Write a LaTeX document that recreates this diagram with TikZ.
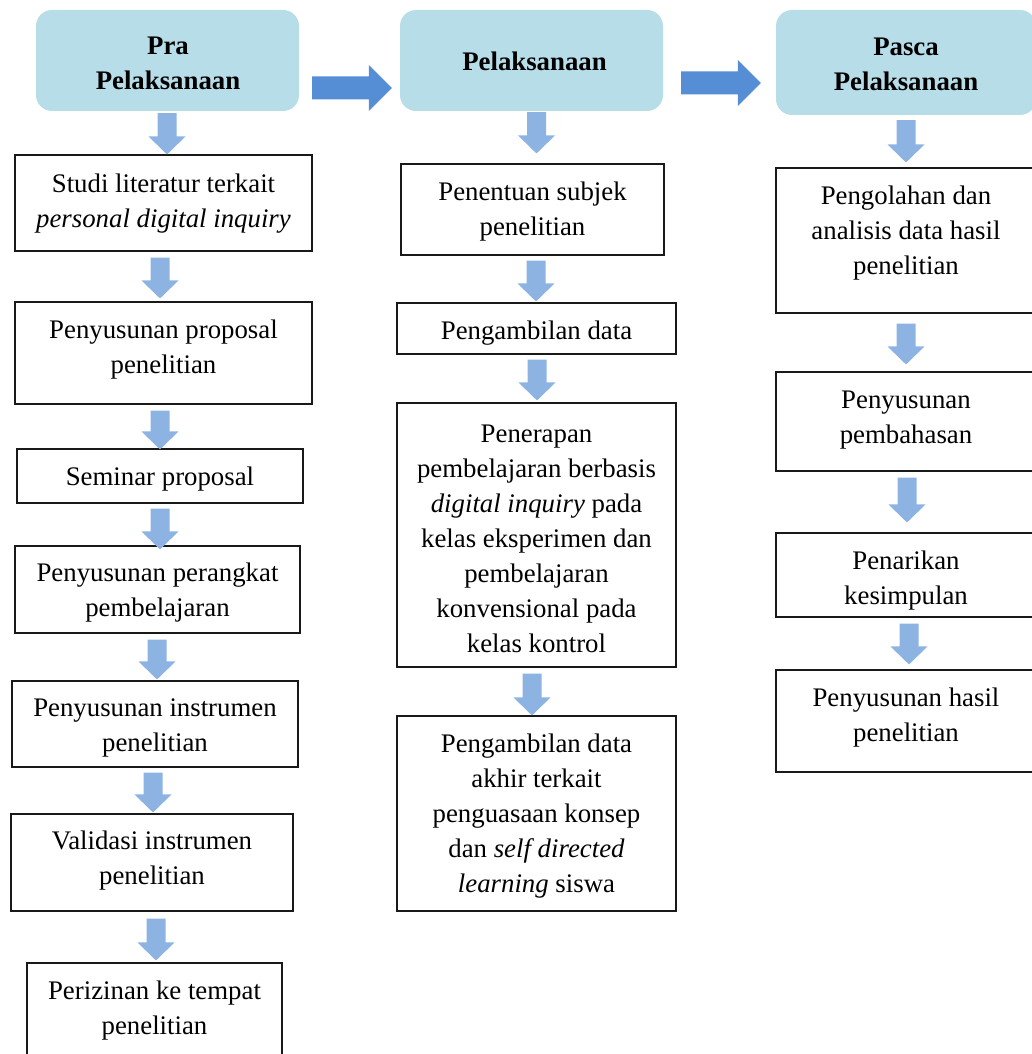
\documentclass[tikz,border=0pt]{standalone}
\usepackage{fontspec}
\setmainfont{Liberation Serif}
\usetikzlibrary{calc}
\definecolor{hdrfill}{HTML}{B7DDE8}
\definecolor{bigarr}{HTML}{558ED5}
\definecolor{smallarr}{HTML}{8DB3E2}
% down block arrow: #1 source node, #2 target node, #3 x, #4 gap below source, #5 gap above target
\newcommand\dnarrow[5]{%
 \fill[smallarr] let \p1=($(#3,0 |- #1.south)+(0,#4)$), \p2=($(#3,0 |- #2.north)+(0,-#5)$) in
 ({\x1-9.5pt},\y1) -- ({\x1+9.5pt},\y1) -- ({\x1+9.5pt},{\y2+18pt}) -- ({\x1+18.5pt},{\y2+18pt})
 -- (\x1,\y2) -- ({\x1-18.5pt},{\y2+18pt}) -- ({\x1-9.5pt},{\y2+18pt}) -- cycle;}
% right block arrow: #1 source, #2 target, #3 y, #4 gap after source, #5 gap before target
\newcommand\rtarrow[5]{%
 \fill[bigarr] let \p1=($(#1.east |- 0,#3)+(#4,0)$), \p2=($(#2.west |- 0,#3)+(-#5,0)$) in
 (\x1,{\y1+11.5pt}) -- ({\x2-23pt},{\y1+11.5pt}) -- ({\x2-23pt},{\y1+23pt}) -- (\x2,\y1)
 -- ({\x2-23pt},{\y1-23pt}) -- ({\x2-23pt},{\y1-11.5pt}) -- (\x1,{\y1-11.5pt}) -- cycle;}
% box: name, x1, y1, x2, y2
\newcommand\bx[5]{\node[stepbox, minimum width={#4-#2}, minimum height={#5-#3}] (#1) at ({(#2+#4)/2},{(#3+#5)/2}) {};}
\newcommand\hd[5]{\node[hdrbox, minimum width={#4-#2}, minimum height={#5-#3}] (#1) at ({(#2+#4)/2},{(#3+#5)/2}) {};}
\begin{document}
\begin{tikzpicture}[x=1pt,y=-1pt,
  stepbox/.style={draw=black!90, line width=1.1pt, fill=white, inner sep=0pt, rectangle},
  hdrbox/.style={fill=hdrfill, rounded corners=16pt, inner sep=0pt, rectangle},
  txt/.style={align=center, inner sep=0pt, font=\fontsize{26.8}{35}\selectfont},
  htxt/.style={txt, font=\fontsize{26.8}{35}\selectfont\bfseries}]
\useasboundingbox (0,0) rectangle (1032,1054);
\clip (0,0) rectangle (1032,1054);
% headers
\hd{h1}{36}{10}{299}{111}
\hd{h2}{400}{10}{663}{111}
\hd{h3}{776}{10}{1036}{115}
\node[htxt] (h1t) at (168,63) {Pra\\Pelaksanaan};
\node[htxt] (h2t) at (534.5,61) {Pelaksanaan};
\node[htxt] (h3t) at (906,64) {Pasca\\Pelaksanaan};
% left column
\bx{l1}{15}{155}{312}{251}
\bx{l2}{15}{302}{312}{404}
\bx{l3}{17}{449}{303}{503}
\bx{l4}{15}{546}{300}{633}
\bx{l5}{12}{681}{298}{767}
\bx{l6}{11}{814}{293}{911}
\bx{l7}{27}{963}{282}{1075}
\node[txt] (l1t) at (163.5,204) {Studi literatur terkait\\\textit{personal digital inquiry}};
\node[txt] (l2t) at (163.5,350) {Penyusunan proposal\\penelitian};
\node[txt] (l3t) at (160,479) {Seminar proposal};
\node[txt] (l4t) at (157.5,593) {Penyusunan perangkat\\pembelajaran};
\node[txt] (l5t) at (155,728) {Penyusunan instrumen\\penelitian};
\node[txt] (l6t) at (152,861) {Validasi instrumen\\penelitian};
\node[txt] (l7t) at (154.5,1011) {Perizinan ke tempat\\penelitian};
% middle column
\bx{m1}{401}{164}{664}{255}
\bx{m2}{397}{303}{676}{354}
\bx{m3}{397}{403}{676}{667}
\bx{m4}{397}{716}{676}{911}
\node[txt] (m1t) at (532.5,212) {Penentuan subjek\\penelitian};
\node[txt] (m2t) at (536.5,333) {Pengambilan data};
\node[txt] (m3t) at (536.5,539) {Penerapan\\pembelajaran berbasis\\\textit{digital inquiry} pada\\kelas eksperimen dan\\pembelajaran\\konvensional pada\\kelas kontrol};
\node[txt] (m4t) at (536.5,816) {Pengambilan data\\akhir terkait\\penguasaan konsep\\dan \textit{self directed}\\\textit{learning} siswa};
% right column
\bx{r1}{776}{168}{1037}{313}
\bx{r2}{776}{372}{1037}{471}
\bx{r3}{776}{533}{1037}{617}
\bx{r4}{776}{670}{1037}{772}
\node[txt] (r1t) at (906,233) {Pengolahan dan\\analisis data hasil\\penelitian};
\node[txt] (r2t) at (906,420) {Penyusunan\\pembahasan};
\node[txt] (r3t) at (906,581) {Penarikan\\kesimpulan};
\node[txt] (r4t) at (906,718) {Penyusunan hasil\\penelitian};
% big arrows
\rtarrow{h1}{h2}{88}{13}{8}
\rtarrow{h2}{h3}{83}{18}{15}
% small arrows
\dnarrow{h1}{l1}{167}{2}{0}
\dnarrow{l1}{l2}{160}{6}{3}
\dnarrow{l2}{l3}{160}{6}{-1}
\dnarrow{l3}{l4}{160}{5}{-4}
\dnarrow{l4}{l5}{157}{6}{1}
\dnarrow{l5}{l6}{153}{5}{1}
\dnarrow{l6}{l7}{156}{7}{2}
\dnarrow{h2}{m1}{536.5}{1}{10}
\dnarrow{m1}{m2}{536}{5}{1}
\dnarrow{m2}{m3}{537}{5}{2}
\dnarrow{m3}{m4}{532}{6}{0}
\dnarrow{h3}{r1}{906}{5}{5}
\dnarrow{r1}{r2}{906}{10}{7}
\dnarrow{r2}{r3}{907}{6}{10}
\dnarrow{r3}{r4}{909}{6}{5}
\end{tikzpicture}
\end{document}
